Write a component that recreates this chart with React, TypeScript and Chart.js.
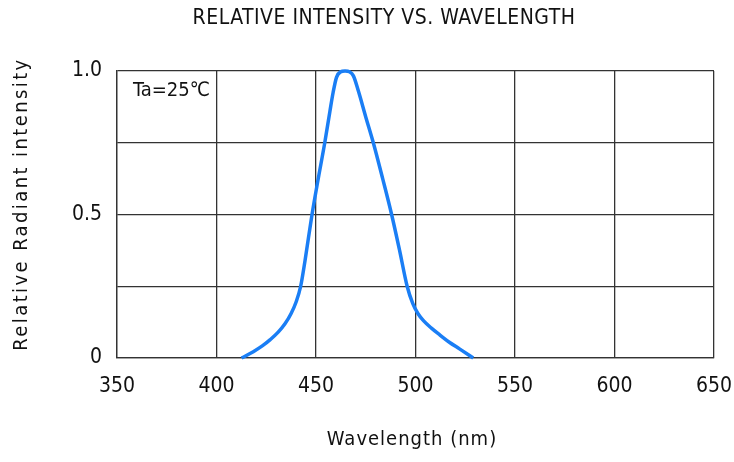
import React, { useEffect, useRef } from "react";
import { Chart, registerables } from "chart.js";

Chart.register(...registerables);

const wavelengths = [412.6, 418.5, 423, 427, 431, 434.5, 437.5, 440, 442.3, 444.5, 448, 451, 454.4, 457, 458.6, 460.3, 462.3, 464.6, 466.8, 468.8, 471.3, 475, 478.8, 483.5, 488, 492, 495.8, 498.6, 501.2, 504, 508, 512.3, 517, 522.3, 529];
const intensity = [0, 0.022, 0.042, 0.064, 0.09, 0.12, 0.155, 0.195, 0.25, 0.34, 0.5, 0.62, 0.75, 0.86, 0.925, 0.978, 0.997, 1.0, 0.997, 0.983, 0.93, 0.84, 0.75, 0.625, 0.5, 0.375, 0.25, 0.19, 0.155, 0.13, 0.104, 0.08, 0.055, 0.031, 0];

const xTicks = [350, 400, 450, 500, 550, 600, 650];
const yLabels: Record<string, string> = { "0": "0", "0.5": "0.5", "1": "1.0" };

const chartTitle = "RELATIVE INTENSITY VS. WAVELENGTH";
const xTitle = "Wavelength (nm)";
const yTitle = "Relative Radiant intensity";
const noteText = "Ta=25℃";

const FONT = "'DejaVu Sans Condensed', 'Liberation Sans Narrow', sans-serif";

export default function App() {
  const ref = useRef<HTMLCanvasElement>(null);
  useEffect(() => {
    if (!ref.current) return;
    const textPlugin = {
      id: "texts",
      afterDraw(chart: any) {
        const ctx = chart.ctx;
        const area = chart.chartArea;
        ctx.save();
        ctx.fillStyle = "#111";
        ctx.textBaseline = "middle";
        ctx.textAlign = "center";
        ctx.font = `21px ${FONT}`;
        (ctx as any).letterSpacing = "0.5px";
        ctx.fillText(chartTitle, 384, 19);
        ctx.font = `20px ${FONT}`;
        (ctx as any).letterSpacing = "1px";
        ctx.fillText(xTitle, 412, 440);
        ctx.save();
        ctx.translate(22, 204);
        ctx.rotate(-Math.PI / 2);
        ctx.font = `20px ${FONT}`;
        (ctx as any).letterSpacing = "2.4px";
        ctx.fillText(yTitle, 0, 0);
        ctx.restore();
        (ctx as any).letterSpacing = "0px";
        ctx.font = `20px ${FONT}`;
        ctx.textAlign = "left";
        ctx.fillText(noteText, area.left + 16, area.top + 20);
        ctx.restore();
      },
    };
    const chart = new Chart(ref.current, {
      type: "line",
      data: {
        datasets: [
          {
            data: wavelengths.map((w, i) => ({ x: w, y: intensity[i] })),
            borderColor: "#1a7ef5",
            borderWidth: 3.5,
            pointRadius: 0,
            cubicInterpolationMode: "monotone",
            fill: false,
            clip: false as any,
          },
        ],
      },
      options: {
        animation: false,
        responsive: true,
        maintainAspectRatio: false,
        layout: { padding: { top: 71, right: 20, left: 0, bottom: 0 } },
        plugins: { legend: { display: false }, tooltip: { enabled: false }, title: { display: false } },
        scales: {
          x: {
            type: "linear",
            min: 350,
            max: 650,
            afterBuildTicks: (s: any) => {
              s.ticks = xTicks.map((v) => ({ value: v }));
            },
            afterFit: (s: any) => {
              s.height = 104;
              s.paddingLeft = 0;
              s.paddingRight = 0;
            },
            ticks: { color: "#111", font: { family: FONT, size: 21 }, padding: 16, maxRotation: 0 },
            grid: { color: "#333", lineWidth: 1.3, drawTicks: false },
            border: { color: "#333", width: 1.3 },
          },
          y: {
            min: 0,
            max: 1,
            ticks: {
              stepSize: 0.25,
              color: "#111",
              font: { family: FONT, size: 21 },
              padding: 15,
              callback: (v: any) => yLabels[String(v)] ?? "",
            },
            afterFit: (s: any) => {
              s.width = 117;
              s.paddingTop = 0;
              s.paddingBottom = 0;
            },
            grid: { color: "#333", lineWidth: 1.3, drawTicks: false },
            border: { color: "#333", width: 1.3 },
          },
        },
      },
      plugins: [textPlugin],
    } as any);
    return () => chart.destroy();
  }, []);
  return (
    <div style={{ position: "fixed", left: 0, top: 0, width: 734, height: 462, background: "#fff" }}>
      <canvas ref={ref} />
    </div>
  );
}
